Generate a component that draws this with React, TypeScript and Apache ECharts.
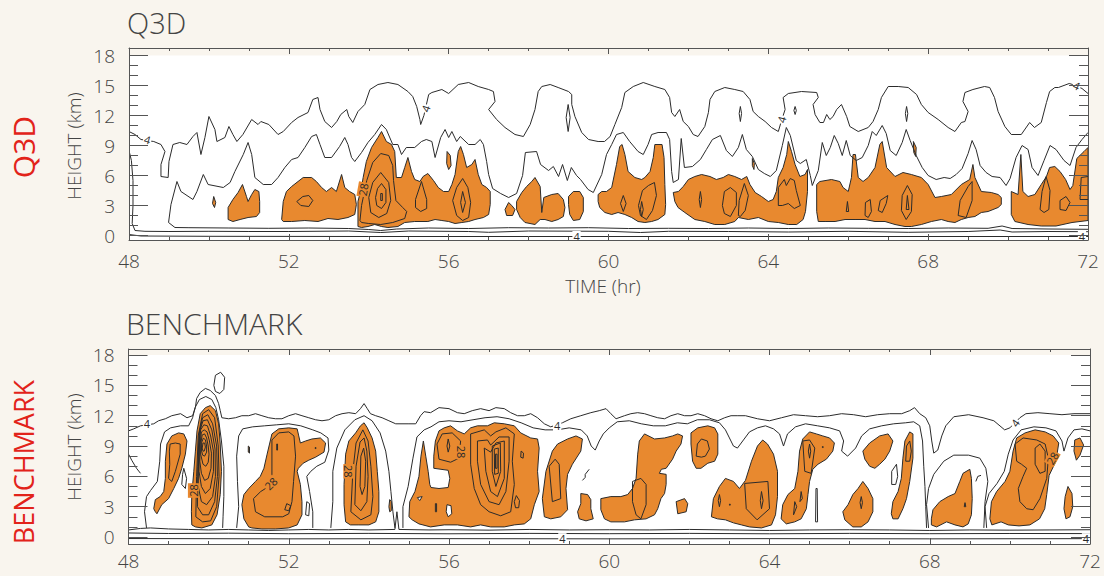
import React, { useEffect, useRef } from "react";
import * as echarts from "echarts";

type Pt = [number, number];
type Lbl = [number, number, string, number];

// ---------- axis ticks ----------
const timeTicks = [48, 52, 56, 60, 64, 68, 72];
const heightTicks = [0, 3, 6, 9, 12, 15, 18];
const heightMinorTicks = [0, 1, 2, 3, 4, 5, 6, 7, 8, 9, 10, 11, 12, 13, 14, 15, 16, 17, 18];

// ---------- Q3D panel ----------
const q3dFills: Pt[][] = [
  [[50.12,3.9],[50.17,3.3],[50.14,2.8],[50.09,3.2]],
  [[50.48,1.6],[50.48,2.8],[50.6,3.6],[50.73,4.3],[50.84,5.1],[50.94,3.9],[50.98,3.4],[51.07,4.1],[51.15,4.6],[51.25,4.4],[51.27,3.4],[51.27,2.3],[51.19,1.9],[50.98,1.8],[50.78,1.6],[50.6,1.4]],
  [[51.82,1.6],[51.86,3.4],[51.94,4.4],[52.07,4.9],[52.23,5.4],[52.36,5.8],[52.57,5.8],[52.69,5.4],[52.82,4.8],[52.94,4.4],[53.07,4.8],[53.19,4.4],[53.32,6.1],[53.4,4.8],[53.52,4.4],[53.65,4.1],[53.69,3.1],[53.65,2.1],[53.48,1.8],[53.23,1.6],[52.98,1.7],[52.73,1.4],[52.4,1.5],[52.07,1.4],[51.86,1.4]],
  [[53.73,0.9],[53.73,3.4],[53.82,4.8],[53.86,5.8],[53.94,7.4],[54.07,8.8],[54.23,9.8],[54.32,10.4],[54.44,9.4],[54.57,9.1],[54.65,8.4],[54.69,5.8],[54.82,5.8],[54.9,6.8],[54.98,7.8],[55.07,6.4],[55.15,5.6],[55.28,5.4],[55.36,5.9],[55.48,6.2],[55.62,5.5],[55.74,4.8],[55.87,4.4],[56.0,4.4],[56.08,5.1],[56.16,6.1],[56.24,8.4],[56.3,8.9],[56.37,8.1],[56.45,6.8],[56.58,7.1],[56.66,7.6],[56.74,6.1],[56.83,5.1],[56.95,4.8],[57.04,4.4],[57.04,3.1],[57.0,2.1],[56.87,1.8],[56.66,1.6],[56.5,1.4],[56.33,1.3],[56.16,1.2],[56.0,1.4],[55.83,1.5],[55.66,1.6],[55.48,1.4],[55.15,1.4],[54.9,1.3],[54.73,0.9],[54.48,0.8],[54.32,0.9],[54.15,1.1],[53.98,0.9],[53.82,0.8]],
  [[55.96,8.4],[56.04,8.0],[56.06,7.0],[56.0,6.6],[55.95,7.2]],
  [[57.41,2.6],[57.5,3.3],[57.58,3.0],[57.66,2.6],[57.6,2.0],[57.45,2.0]],
  [[57.7,3.4],[57.83,4.3],[57.95,4.9],[58.08,5.4],[58.16,5.8],[58.29,4.9],[58.33,2.3],[58.38,3.8],[58.58,4.1],[58.74,4.2],[58.87,3.6],[58.91,2.8],[58.87,1.9],[58.74,1.6],[58.58,1.4],[58.41,1.6],[58.29,1.6],[58.16,1.1],[57.91,1.3],[57.79,1.8],[57.7,2.6]],
  [[59.0,3.9],[59.12,4.4],[59.28,4.4],[59.37,3.8],[59.37,2.4],[59.28,1.6],[59.12,1.5],[59.03,2.1],[59.0,3.1]],
  [[59.74,4.1],[59.83,4.4],[59.95,4.4],[60.08,4.8],[60.2,7.1],[60.28,8.9],[60.34,9.1],[60.41,8.1],[60.49,6.4],[60.66,5.8],[60.83,5.6],[60.91,5.8],[61.04,6.4],[61.12,7.8],[61.16,9.1],[61.34,9.1],[61.39,7.8],[61.41,5.1],[61.43,3.1],[61.41,2.1],[61.24,1.6],[61.08,1.4],[60.91,1.3],[60.74,1.4],[60.58,1.8],[60.41,2.1],[60.24,2.3],[60.08,2.1],[59.91,2.3],[59.78,2.8],[59.74,3.4]],
  [[61.62,4.3],[61.75,4.4],[61.87,4.9],[62.0,5.6],[62.16,5.9],[62.33,6.1],[62.54,5.9],[62.7,5.6],[62.87,5.8],[63.0,6.1],[63.16,5.9],[63.33,5.6],[63.46,5.9],[63.54,5.1],[63.67,4.3],[63.83,3.9],[64.0,3.4],[64.12,3.6],[64.2,4.4],[64.25,5.8],[64.37,6.8],[64.46,8.1],[64.5,9.4],[64.58,8.4],[64.67,7.1],[64.79,5.9],[64.92,6.1],[64.98,6.6],[64.98,4.4],[64.93,2.4],[64.87,1.6],[64.71,1.1],[64.5,1.1],[64.25,1.3],[64.0,1.4],[63.75,1.8],[63.5,1.6],[63.25,1.8],[63.16,1.4],[62.91,1.1],[62.66,1.1],[62.41,1.4],[62.16,1.6],[61.91,2.3],[61.74,2.8],[61.66,3.4]],
  [[63.6,7.7],[63.65,7.2],[63.64,6.6],[63.6,7.0]],
  [[65.21,5.1],[65.29,5.4],[65.58,5.6],[65.79,5.4],[65.87,4.8],[66.0,4.4],[66.08,5.8],[66.12,8.1],[66.18,8.1],[66.25,5.8],[66.37,5.4],[66.5,5.8],[66.67,6.8],[66.79,9.1],[66.85,9.4],[66.96,6.8],[67.17,5.9],[67.37,6.3],[67.58,6.1],[67.83,5.8],[68.0,5.1],[68.17,3.8],[68.33,3.9],[68.58,4.1],[68.83,5.1],[69.04,5.6],[69.12,7.1],[69.17,5.8],[69.33,4.4],[69.58,4.3],[69.75,4.1],[69.83,3.8],[69.83,3.1],[69.75,2.8],[69.5,2.4],[69.33,2.3],[69.17,1.9],[69.0,1.8],[68.83,1.6],[68.67,1.3],[68.5,1.4],[68.33,1.6],[68.08,1.4],[67.83,1.1],[67.58,0.9],[67.42,0.9],[67.17,1.1],[66.92,1.4],[66.67,1.4],[66.42,1.6],[66.17,1.6],[65.92,1.6],[65.67,1.4],[65.42,1.4],[65.25,1.4],[65.21,2.4]],
  [[67.63,9.4],[67.7,8.8],[67.69,7.9],[67.64,8.3]],
  [[70.08,4.4],[70.25,4.1],[70.32,8.1],[70.37,4.4],[70.5,3.9],[70.67,4.1],[70.83,5.1],[70.96,5.9],[71.04,6.8],[71.17,6.9],[71.3,6.4],[71.44,5.6],[71.55,4.6],[71.62,5.0],[71.72,7.7],[71.9,8.4],[72.0,8.8],[72.0,1.5],[71.6,1.3],[71.2,0.95],[70.83,0.95],[70.5,1.1],[70.17,1.4],[70.08,2.1]],
];

const q3dLoops: Pt[][] = [
  [[52.2,3.4],[52.35,3.9],[52.5,4.0],[52.6,3.5],[52.5,2.9],[52.3,3.0]],
  [[53.78,1.5],[53.82,3.0],[53.95,5.5],[54.1,7.3],[54.3,8.2],[54.5,8.0],[54.6,7.0],[54.62,5.5],[54.68,3.5],[54.85,2.8],[54.95,2.4],[54.9,1.7],[54.6,1.3],[54.3,1.1],[54.0,1.2],[53.82,1.3]],
  [[54.0,3.8],[54.1,5.3],[54.3,6.3],[54.5,5.3],[54.55,3.5],[54.45,2.2],[54.25,1.8],[54.05,2.3]],
  [[54.17,3.8],[54.22,4.7],[54.32,5.2],[54.43,4.6],[54.43,3.3],[54.32,2.7],[54.2,3.0]],
  [[54.3,4.2],[54.34,4.2],[54.34,3.5],[54.3,3.5]],
  [[55.32,5.4],[55.45,3.6],[55.45,2.7],[55.3,2.4],[55.17,2.8],[55.17,3.6]],
  [[56.1,3.5],[56.2,4.8],[56.35,5.7],[56.48,4.8],[56.55,3.3],[56.5,1.8],[56.35,1.5],[56.2,2.0]],
  [[56.3,3.3],[56.35,4.4],[56.42,3.3],[56.35,2.3]],
  [[60.3,3.2],[60.37,4.0],[60.44,3.2],[60.37,2.4]],
  [[60.8,2.0],[60.75,3.0],[60.85,4.5],[61.0,5.0],[61.15,5.3],[61.2,4.0],[61.1,2.5],[60.95,1.6]],
  [[60.8,2.6],[60.83,3.4],[60.87,2.6],[60.83,1.9]],
  [[62.27,3.6],[62.3,4.4],[62.33,3.6],[62.3,2.8]],
  [[62.85,3.0],[62.9,4.4],[63.05,4.8],[63.2,4.3],[63.2,3.0],[63.05,1.9],[62.9,2.2]],
  [[63.25,2.0],[63.27,3.5],[63.4,5.2],[63.5,4.0],[63.42,2.5],[63.3,1.9]],
  [[64.25,3.0],[64.25,4.8],[64.4,5.6],[64.45,5.0],[64.55,5.7],[64.65,5.5],[64.7,4.5],[64.8,3.0],[64.65,2.7],[64.5,3.2],[64.35,3.0]],
  [[65.95,2.4],[65.98,3.4],[66.01,2.4]],
  [[66.42,2.0],[66.43,3.3],[66.55,3.6],[66.58,2.4],[66.5,1.8]],
  [[66.75,2.5],[66.8,3.5],[66.99,4.0],[66.95,3.2],[66.85,2.3]],
  [[67.33,2.5],[67.35,4.0],[67.48,5.0],[67.6,4.1],[67.58,2.4],[67.45,1.6]],
  [[67.45,2.6],[67.48,4.0],[67.52,2.6]],
  [[68.75,2.0],[68.8,3.5],[69.0,4.9],[69.1,5.4],[69.1,3.5],[68.95,1.8]],
  [[70.8,2.6],[70.85,4.4],[70.95,5.9],[71.05,4.5],[71.02,2.6],[70.9,2.3]],
  [[71.3,3.5],[71.45,3.9],[71.55,3.3],[71.45,2.5],[71.3,2.6]],
  [[58.94,11.8],[58.99,13.1],[59.04,11.8],[58.99,10.4]],
  [[63.27,12.2],[63.3,12.9],[63.33,12.2],[63.3,11.4]],
  [[64.64,12.5],[64.67,12.9],[64.7,12.5],[64.67,12.1]],
  [[67.43,12.2],[67.46,12.9],[67.49,12.2],[67.46,11.4]],
];

const q3dHoles: Pt[][] = [];

const q3dLines: Pt[][] = [
  // outer level-4 contour, top
  [[48.0,10.4],[48.15,10.1],[48.3,9.6],[48.62,9.4],[48.8,9.1],[48.9,8.4],[48.8,7.1],[48.8,5.9],[48.98,5.8],[49.0,7.4],[49.1,9.1],[49.27,9.3],[49.45,9.1],[49.6,9.9],[49.7,10.3],[49.8,8.1],[49.9,9.8],[50.0,11.9],[50.15,10.6],[50.2,9.4],[50.4,9.8],[50.5,10.9],[50.6,10.1],[50.7,9.4],[50.85,10.1],[51.07,11.6],[51.23,11.1],[51.3,11.4],[51.5,11.1],[51.73,10.1],[51.86,10.4],[52.07,11.3],[52.23,11.8],[52.48,12.3],[52.6,13.6],[52.73,13.8],[52.78,12.6],[52.9,11.4],[53.07,10.8],[53.2,11.4],[53.3,12.1],[53.45,12.6],[53.5,11.9],[53.6,11.3],[53.73,12.4],[53.9,13.1],[54.03,14.6],[54.23,15.1],[54.48,15.3],[54.73,15.1],[54.98,14.4],[55.1,13.9],[55.2,12.9],[55.28,11.6],[55.3,11.1],[55.38,12.0],[55.5,14.1],[55.58,14.3],[55.83,14.6],[56.0,14.2],[56.24,15.1],[56.5,15.3],[56.74,14.9],[57.0,14.6],[57.12,14.4],[57.16,13.4],[57.0,12.6],[57.2,11.6],[57.41,10.8],[57.66,10.1],[57.87,9.9],[58.04,11.1],[58.16,12.6],[58.24,14.4],[58.33,14.9],[58.54,15.1],[58.74,14.8],[59.0,14.4],[59.08,14.1],[59.08,13.1],[59.16,11.9],[59.33,10.3],[59.5,9.6],[59.74,9.4],[59.9,9.4],[60.04,9.9],[60.16,11.1],[60.33,12.8],[60.41,14.3],[60.62,14.9],[60.87,15.3],[61.16,14.9],[61.41,14.6],[61.53,13.8],[61.58,12.3],[61.66,11.9],[61.78,12.6],[61.87,11.4],[62.0,10.9],[62.12,10.1],[62.24,9.9],[62.41,10.9],[62.5,12.3],[62.54,13.6],[62.66,14.4],[62.91,14.8],[63.16,14.6],[63.37,14.4],[63.54,13.6],[63.62,12.4],[63.75,11.9],[63.92,11.4],[64.08,10.8],[64.25,10.4],[64.33,11.5],[64.42,12.6],[64.37,13.8],[64.5,14.2],[64.83,14.4],[65.21,14.3],[65.25,13.8],[65.12,13.1],[65.17,12.1],[65.29,11.3],[65.38,11.3],[65.46,12.1],[65.54,11.6],[65.62,11.9],[65.71,12.6],[65.83,13.1],[65.96,11.9],[66.04,10.9],[66.25,10.4],[66.5,10.8],[66.62,11.4],[66.75,12.6],[66.83,13.8],[67.0,14.9],[67.25,14.9],[67.5,14.8],[67.71,14.1],[67.83,13.1],[68.0,12.3],[68.25,11.6],[68.5,10.8],[68.67,10.4],[68.83,11.3],[68.92,11.4],[69.0,12.4],[68.87,13.4],[68.92,14.3],[69.12,14.6],[69.41,14.9],[69.54,14.8],[69.66,13.8],[69.75,12.4],[69.92,10.9],[70.08,10.1],[70.33,10.1],[70.54,11.3],[70.66,10.8],[70.83,11.3],[70.96,13.3],[71.04,14.4],[71.17,14.8],[71.26,14.8],[71.53,15.2],[71.7,15.0],[71.85,14.7],[72.0,14.2]],
  // outer level-4 contour, left side and bottom
  [[48.0,8.5],[48.06,7.5],[48.1,5.5],[48.1,3.0],[48.08,1.2],[48.15,0.5],[48.4,0.42],[49.0,0.4],[50.0,0.42],[51.0,0.4],[52.0,0.4],[53.5,0.45],[54.3,0.3],[55.0,0.45],[56.5,0.4],[57.0,0.32],[58.0,0.45],[60.0,0.42],[60.8,0.3],[61.5,0.42],[63.0,0.4],[64.5,0.35],[66.0,0.42],[67.5,0.32],[69.0,0.4],[69.8,0.55],[70.1,0.35],[71.0,0.4],[72.0,0.38]],
  // near-surface level-4 contour
  [[48.0,0.1],[48.3,-0.05],[50.0,-0.08],[54.0,-0.1],[58.0,-0.1],[62.0,-0.1],[66.0,-0.1],[70.0,-0.1],[72.0,-0.1]],
  // second contour, top
  [[48.99,1.3],[49.05,3.1],[49.2,5.4],[49.3,4.4],[49.6,3.6],[49.7,4.4],[49.86,6.1],[49.98,5.1],[50.36,4.8],[50.53,5.3],[50.65,6.4],[50.86,8.1],[50.98,9.3],[51.07,8.1],[51.15,5.8],[51.36,5.1],[51.57,5.1],[51.73,5.8],[51.9,6.8],[52.07,7.6],[52.23,7.8],[52.4,8.8],[52.57,9.9],[52.69,10.1],[52.78,9.1],[52.9,7.8],[53.07,7.8],[53.27,8.9],[53.4,9.8],[53.48,9.1],[53.57,7.8],[53.65,7.4],[53.82,8.3],[53.98,9.3],[54.15,10.1],[54.32,11.1],[54.44,10.6],[54.6,9.1],[54.73,9.1],[54.82,8.1],[54.94,8.8],[55.15,8.8],[55.32,9.4],[55.44,9.6],[55.58,9.4],[55.66,7.8],[55.8,9.8],[55.91,10.6],[56.0,9.8],[56.08,10.4],[56.2,9.4],[56.29,9.9],[56.5,9.1],[56.66,9.1],[56.79,9.6],[56.87,9.1],[56.95,7.4],[57.0,6.1],[57.1,4.7],[57.3,4.2],[57.5,3.8],[57.7,4.2],[57.85,6.0],[57.92,8.3],[58.2,8.4],[58.3,7.1],[58.5,6.5],[58.62,6.9],[58.75,5.9],[58.85,7.1],[58.97,5.5],[59.07,6.8],[59.2,6.0],[59.3,5.6],[59.49,4.6],[59.62,4.3],[59.83,6.1],[59.95,8.1],[60.08,9.1],[60.2,10.1],[60.37,10.3],[60.53,9.4],[60.74,8.4],[60.87,8.1],[60.99,9.1],[61.08,10.1],[61.24,10.3],[61.45,10.3],[61.53,9.6],[61.58,6.4],[61.62,5.3],[61.75,5.6],[61.82,9.7],[61.9,6.8],[62.1,6.9],[62.3,7.6],[62.45,8.6],[62.6,9.6],[62.8,10.0],[62.95,8.5],[63.1,7.9],[63.25,8.8],[63.35,10.1],[63.45,8.6],[63.6,7.9],[63.75,6.6],[63.9,6.2],[64.05,5.9],[64.2,6.5],[64.35,9.0],[64.45,10.8],[64.55,10.0],[64.7,7.5],[64.8,7.2],[64.95,7.6],[65.05,6.0],[65.1,5.0],[65.25,6.5],[65.35,9.3],[65.45,8.0],[65.55,8.8],[65.65,10.0],[65.75,9.2],[65.85,8.0],[65.95,9.5],[66.05,8.0],[66.2,7.5],[66.35,7.8],[66.5,9.0],[66.6,10.4],[66.7,10.0],[66.85,11.0],[66.95,10.2],[67.05,8.5],[67.2,8.0],[67.35,9.3],[67.45,10.6],[67.55,9.5],[67.7,8.0],[67.85,6.8],[68.0,6.0],[68.2,5.6],[68.4,5.8],[68.55,5.7],[68.7,6.1],[68.85,6.7],[69.0,8.2],[69.1,9.5],[69.2,8.6],[69.3,7.0],[69.45,6.3],[69.6,5.9],[69.8,5.8],[69.95,5.0],[70.05,5.7],[70.2,7.8],[70.35,9.0],[70.5,8.6],[70.6,6.8],[70.75,6.0],[70.9,7.5],[71.05,9.0],[71.2,8.6],[71.4,7.5],[71.55,7.0],[71.7,8.8],[71.85,9.6],[72.0,10.3]],
  // second contour, bottom
  [[48.99,1.3],[49.15,0.8],[49.5,0.78],[50.5,0.75],[51.5,0.72],[52.5,0.75],[53.5,0.7],[54.0,0.6],[54.3,0.5],[54.7,0.65],[55.5,0.75],[56.5,0.7],[57.5,0.78],[58.5,0.75],[59.5,0.78],[60.5,0.7],[61.5,0.72],[62.5,0.7],[63.5,0.75],[64.5,0.7],[65.5,0.75],[66.5,0.72],[67.5,0.7],[68.5,0.75],[69.5,0.72],[69.85,0.95],[70.1,0.7],[71.0,0.65],[72.0,0.62]],
  [[72.0,5.9],[71.83,5.8],[71.8,3.6],[72.0,3.6]],
];

const q3dLabelsOnWhite: Lbl[] = [
  [48.46,9.6,"4",-15],[55.42,12.7,"4",70],[64.33,11.6,"4",75],[71.72,15.0,"4",-25],[59.2,-0.1,"4",0],[71.85,-0.1,"4",0],
];
const q3dLabelsOnOrange: Lbl[] = [[53.86,4.6,"28",80]];

// ---------- BENCHMARK panel ----------
const benchFills: Pt[][] = [
  [[48.67,2.5],[48.63,2.8],[48.67,3.7],[48.79,4.0],[48.88,4.5],[48.92,5.8],[48.92,7.5],[48.96,9.2],[49.08,10.0],[49.25,10.3],[49.38,10.2],[49.46,9.5],[49.42,8.2],[49.33,6.8],[49.25,5.8],[49.13,4.8],[49.0,3.8],[48.83,3.2],[48.71,2.3]],
  [[49.58,1.2],[49.57,2.5],[49.58,4.2],[49.63,6.5],[49.67,8.5],[49.71,10.5],[49.79,12.2],[49.92,12.8],[50.04,13.0],[50.17,12.5],[50.25,11.2],[50.29,9.2],[50.32,6.5],[50.29,4.2],[50.21,2.2],[50.08,1.2],[49.83,0.9],[49.67,1.0]],
  [[50.99,9.0],[51.02,8.9],[51.02,8.3],[50.99,8.4]],
  [[51.0,1.0],[50.88,1.8],[50.83,3.2],[50.88,4.2],[51.0,4.8],[51.17,5.5],[51.29,6.0],[51.38,6.8],[51.46,8.2],[51.52,9.2],[51.58,10.2],[51.75,10.7],[52.0,10.8],[52.21,10.7],[52.25,10.0],[52.29,9.3],[52.42,9.5],[52.58,9.7],[52.79,9.8],[52.92,9.3],[52.88,8.4],[52.67,7.9],[52.5,7.6],[52.36,7.3],[52.24,6.8],[52.21,6.5],[52.29,5.2],[52.33,3.5],[52.33,2.2],[52.21,1.2],[52.0,0.9],[51.67,0.8],[51.33,0.8],[51.08,0.9]],
  [[53.42,1.5],[53.38,3.2],[53.38,5.2],[53.42,8.2],[53.5,9.5],[53.67,10.3],[53.79,11.0],[53.88,11.3],[53.96,10.8],[54.08,9.8],[54.17,8.5],[54.21,6.5],[54.25,4.5],[54.25,2.5],[54.17,1.5],[54.0,1.2],[53.75,1.2],[53.54,1.2]],
  [[54.52,3.7],[54.56,3.5],[54.56,2.6],[54.52,2.5],[54.5,3.0]],
  [[55.0,2.0],[55.02,3.5],[55.15,4.5],[55.25,6.0],[55.3,8.0],[55.36,9.5],[55.42,8.0],[55.48,6.5],[55.52,5.2],[55.55,4.9],[55.75,4.8],[55.98,4.9],[56.02,5.8],[55.98,6.6],[55.8,6.7],[55.62,6.8],[55.62,8.0],[55.66,9.5],[55.75,10.5],[55.88,10.8],[56.04,11.0],[56.21,10.5],[56.38,10.2],[56.54,10.8],[56.71,11.0],[56.96,11.0],[57.13,11.3],[57.38,11.2],[57.63,11.0],[57.79,10.3],[58.04,9.8],[58.21,9.7],[58.25,8.8],[58.21,6.5],[58.25,4.5],[58.13,3.2],[58.04,1.8],[57.88,1.3],[57.63,1.2],[57.38,1.0],[57.04,1.0],[56.79,1.2],[56.54,1.0],[56.21,1.2],[55.88,1.2],[55.54,1.0],[55.25,1.3],[55.08,1.7]],
  [[58.38,2.0],[58.33,3.8],[58.42,6.5],[58.58,8.5],[58.71,9.2],[58.96,9.7],[59.17,10.0],[59.33,9.7],[59.29,8.5],[59.08,7.2],[58.96,6.2],[58.92,4.8],[58.96,2.7],[58.79,2.0],[58.54,1.8]],
  [[59.29,4.3],[59.46,4.2],[59.54,3.7],[59.54,2.8],[59.6,1.8],[59.42,1.6],[59.25,1.8],[59.21,2.5],[59.29,3.3]],
  [[59.79,3.8],[60.04,4.0],[60.29,4.0],[60.46,4.2],[60.58,4.8],[60.67,5.8],[60.71,8.2],[60.75,9.5],[60.88,10.2],[61.13,9.7],[61.38,9.8],[61.58,10.0],[61.71,10.2],[61.83,10.0],[61.79,9.2],[61.67,8.5],[61.58,7.7],[61.42,6.8],[61.3,6.7],[61.25,6.3],[61.42,6.2],[61.42,5.2],[61.38,4.3],[61.29,3.8],[61.21,2.8],[61.13,2.2],[60.92,1.8],[60.63,1.7],[60.38,1.5],[60.04,1.5],[59.88,1.8],[59.79,2.7]],
  [[61.67,3.5],[61.88,3.8],[61.96,3.3],[61.92,2.5],[61.71,2.3]],
  [[62.04,10.3],[62.21,10.8],[62.46,11.0],[62.63,10.8],[62.71,10.2],[62.71,8.2],[62.63,7.5],[62.46,7.3],[62.29,6.8],[62.17,6.8],[62.08,7.5],[62.04,9.2]],
  [[62.55,2.0],[62.6,3.8],[62.75,5.0],[62.9,5.8],[63.1,5.5],[63.25,4.8],[63.4,5.6],[63.55,7.5],[63.7,9.0],[63.83,9.6],[63.95,9.2],[64.1,8.2],[64.2,6.5],[64.2,4.0],[64.15,2.2],[64.05,1.2],[63.8,0.9],[63.5,1.0],[63.3,1.2],[63.1,1.4],[62.9,1.7],[62.7,1.8]],
  [[64.29,1.8],[64.33,3.2],[64.46,4.2],[64.63,4.8],[64.71,6.5],[64.75,8.5],[64.83,9.7],[65.0,10.4],[65.17,10.2],[65.33,10.0],[65.5,9.8],[65.62,9.3],[65.58,8.5],[65.42,7.7],[65.21,7.2],[65.08,6.7],[65.0,5.5],[64.96,4.2],[64.92,2.8],[64.79,1.8],[64.63,1.5],[64.42,1.3]],
  [[65.83,2.5],[65.96,3.2],[66.08,4.2],[66.21,4.8],[66.33,5.5],[66.46,4.8],[66.58,3.8],[66.58,2.5],[66.46,1.5],[66.29,1.0],[66.08,1.0],[65.88,1.7]],
  [[66.33,8.5],[66.5,9.3],[66.75,10.0],[66.96,10.2],[67.08,9.5],[67.0,8.5],[66.88,7.7],[66.75,7.2],[66.63,6.8],[66.5,7.0],[66.38,7.7]],
  [[67.04,2.3],[67.08,3.5],[67.21,4.5],[67.29,5.8],[67.33,7.8],[67.38,9.5],[67.5,10.4],[67.58,10.2],[67.58,7.8],[67.5,5.5],[67.42,3.8],[67.33,2.8],[67.21,1.8],[67.08,1.8]],
  [[68.04,1.8],[68.08,2.7],[68.25,3.5],[68.46,4.0],[68.63,4.3],[68.75,5.5],[68.83,6.3],[69.0,6.7],[69.04,5.8],[69.06,3.8],[69.04,2.2],[68.96,1.3],[68.83,1.0],[68.63,1.2],[68.42,1.5],[68.17,1.0],[68.04,1.2]],
  [[69.5,1.8],[69.54,3.5],[69.67,4.5],[69.88,5.5],[70.0,6.5],[70.08,8.5],[70.17,9.8],[70.38,10.3],[70.63,10.6],[70.88,10.4],[71.08,10.0],[71.22,9.3],[71.15,7.5],[70.98,6.1],[70.92,4.2],[70.87,2.8],[70.74,1.8],[70.5,1.2],[70.23,1.1],[69.96,1.2],[69.78,1.5],[69.55,1.2]],
  [[71.62,9.6],[71.75,9.8],[71.84,9.1],[71.75,8.1],[71.66,7.6],[71.6,8.5]],
  [[71.45,5.0],[71.55,4.3],[71.57,3.0],[71.5,2.0],[71.4,1.8],[71.35,2.8],[71.38,4.0]],
];

const benchHoles: Pt[][] = [
  [[55.95,3.2],[56.05,3.1],[56.07,2.3],[55.98,2.0],[55.93,2.5]],
  [[55.21,3.9],[55.33,4.0],[55.27,3.6]],
];

const benchLoops: Pt[][] = [
  [[49.04,9.2],[49.17,9.3],[49.29,9.2],[49.29,8.2],[49.17,6.5],[49.08,5.5],[49.0,5.8],[49.03,7.2],[49.02,8.5]],
  [[49.68,2.0],[49.7,6.0],[49.74,10.0],[49.85,12.2],[50.0,12.6],[50.15,11.8],[50.24,9.0],[50.26,6.0],[50.2,3.0],[50.05,1.6],[49.85,1.5]],
  [[49.72,3.0],[49.73,7.0],[49.76,10.2],[49.85,11.8],[49.98,12.1],[50.1,11.2],[50.2,9.0],[50.22,6.0],[50.15,3.5],[50.0,2.2],[49.85,2.2]],
  [[49.74,5.0],[49.75,8.0],[49.78,10.5],[49.86,11.5],[49.97,11.6],[50.08,10.6],[50.16,8.7],[50.17,6.0],[50.1,4.0],[49.95,3.2],[49.82,3.5]],
  [[49.76,6.5],[49.77,9.0],[49.8,10.6],[49.88,11.1],[49.97,11.0],[50.05,10.0],[50.12,8.5],[50.12,6.5],[50.04,4.8],[49.92,4.3],[49.82,5.0]],
  [[49.78,7.5],[49.79,9.3],[49.82,10.4],[49.89,10.6],[49.96,10.4],[50.02,9.5],[50.07,8.3],[50.06,6.8],[49.99,5.8],[49.9,5.6],[49.82,6.3]],
  [[49.8,8.2],[49.81,9.4],[49.84,10.1],[49.9,10.2],[49.95,9.8],[49.99,9.0],[50.01,8.2],[49.99,7.4],[49.93,7.0],[49.86,7.2]],
  [[49.82,8.6],[49.83,9.4],[49.87,9.8],[49.92,9.6],[49.95,9.0],[49.95,8.4],[49.9,8.0],[49.85,8.1]],
  [[49.84,8.8],[49.86,9.3],[49.9,9.3],[49.92,8.9],[49.89,8.5],[49.86,8.5]],
  [[49.38,6.8],[49.45,5.8],[49.42,4.8],[49.33,5.2],[49.35,6.2]],
  [[50.13,15.0],[50.17,16.0],[50.3,16.3],[50.4,15.8],[50.38,14.6],[50.28,14.2],[50.17,14.4]],
  [[51.58,9.6],[51.58,5.2],[51.3,4.5],[51.12,3.8],[51.17,2.5],[51.4,2.0],[51.85,2.0],[52.0,2.3],[52.08,3.5],[52.12,5.5],[52.17,8.0],[52.13,10.0],[52.0,10.4],[51.75,10.3]],
  [[51.9,2.7],[51.95,3.3],[52.05,3.1],[52.0,2.6]],
  [[51.7,9.2],[51.72,9.2],[51.72,8.6],[51.7,8.6]],
  [[52.66,8.85],[52.68,8.85],[52.68,8.75],[52.66,8.75]],
  [[52.42,2.2],[52.45,3.5],[52.52,3.3],[52.5,2.1]],
  [[53.55,2.5],[53.6,6.5],[53.68,9.3],[53.85,10.6],[53.98,9.5],[54.05,7.0],[54.1,4.0],[54.05,2.2],[53.8,1.7]],
  [[53.65,3.2],[53.68,7.0],[53.78,9.4],[53.88,9.8],[53.95,8.5],[53.98,6.0],[53.95,3.5],[53.8,2.6]],
  [[53.78,5.0],[53.8,8.0],[53.87,8.8],[53.92,7.5],[53.9,5.0],[53.83,4.2]],
  [[55.7,9.2],[55.75,7.7],[56.04,7.4],[56.25,7.8],[56.29,9.5],[56.08,10.3],[55.83,10.2]],
  [[55.95,9.0],[55.98,9.7],[56.02,9.0],[55.98,8.4]],
  [[55.66,3.3],[55.69,3.3],[55.69,2.5],[55.66,2.5]],
  [[56.54,10.2],[56.88,10.6],[57.04,10.0],[57.17,10.4],[57.42,10.8],[57.63,10.2],[57.58,7.5],[57.63,5.2],[57.54,2.5],[57.29,2.1],[57.0,2.5],[56.79,3.2],[56.63,4.8],[56.54,7.2]],
  [[56.71,9.5],[56.96,9.6],[57.04,9.1],[57.25,9.9],[57.5,9.9],[57.5,7.5],[57.42,4.5],[57.25,3.2],[57.0,3.5],[56.79,5.2],[56.71,7.5]],
  [[56.88,8.8],[57.04,8.4],[57.17,9.3],[57.38,9.5],[57.38,5.8],[57.21,4.0],[57.04,4.5],[56.92,6.5]],
  [[57.08,9.0],[57.28,9.3],[57.29,6.5],[57.17,5.0],[57.08,6.5]],
  [[57.13,8.7],[57.23,8.8],[57.23,6.3],[57.14,6.2]],
  [[57.16,8.2],[57.2,8.2],[57.2,6.8],[57.16,6.8]],
  [[57.68,4.1],[57.76,3.6],[57.74,2.9],[57.66,2.9],[57.63,3.5]],
  [[57.8,8.5],[57.86,8.3],[57.85,7.8],[57.79,7.9]],
  [[58.5,7.0],[58.58,3.5],[58.79,3.8],[58.75,7.2],[58.65,7.7]],
  [[60.58,5.5],[60.79,5.8],[60.92,5.2],[60.92,3.2],[60.79,1.8],[60.67,2.2],[60.58,3.5]],
  [[62.17,8.0],[62.2,9.2],[62.3,9.7],[62.45,9.5],[62.5,8.7],[62.4,8.0],[62.3,7.9]],
  [[62.72,3.6],[62.75,4.2],[62.78,3.6],[62.75,3.0]],
  [[63.0,3.25],[63.02,3.25],[63.02,3.15],[63.0,3.15]],
  [[63.38,5.3],[63.96,5.5],[64.0,2.8],[63.69,1.7],[63.42,2.8]],
  [[63.77,3.6],[63.8,4.5],[63.84,3.6],[63.8,2.8]],
  [[64.83,9.5],[64.88,6.5],[65.04,6.3],[65.13,8.8],[65.0,9.6]],
  [[64.97,8.5],[65.0,9.2],[65.03,8.5],[65.0,7.8]],
  [[65.32,8.95],[65.34,8.95],[65.34,8.85],[65.32,8.85]],
  [[64.6,2.2],[64.63,3.5],[64.68,3.0]],
  [[64.76,3.5],[64.79,4.5],[64.82,3.8]],
  [[65.15,1.5],[65.16,4.8],[65.19,4.8],[65.2,1.5]],
  [[66.26,3.4],[66.29,4.0],[66.32,3.4],[66.29,2.8]],
  [[67.05,5.2],[67.05,6.5],[67.17,7.2],[67.2,6.0],[67.15,5.2]],
  [[67.4,7.5],[67.42,9.0],[67.5,9.5],[67.54,8.5],[67.5,7.5]],
  [[68.86,3.0],[68.88,3.4],[68.9,3.0]],
  [[70.17,7.5],[70.13,9.2],[70.33,9.8],[70.67,9.6],[70.88,9.2],[70.96,7.8],[70.92,5.8],[70.75,3.8],[70.58,2.7],[70.42,2.8],[70.25,3.5],[70.21,4.8],[70.33,6.0],[70.42,6.8],[70.29,7.2]],
  [[70.63,8.8],[70.75,9.2],[70.88,8.5],[70.88,6.5],[70.75,6.3],[70.63,7.2]],
];

const benchLines: Pt[][] = [
  // outer level-4 contour, top
  [[48.0,10.5],[48.13,10.7],[48.3,11.0],[48.63,11.2],[48.75,11.5],[48.92,11.7],[49.08,12.0],[49.3,12.2],[49.46,11.8],[49.6,12.0],[49.67,12.8],[49.7,13.7],[49.79,14.3],[49.92,14.7],[50.04,14.5],[50.17,14.0],[50.25,13.2],[50.29,12.5],[50.33,11.8],[50.5,11.7],[50.67,11.8],[50.83,12.0],[51.0,12.0],[51.17,12.2],[51.33,12.0],[51.5,11.8],[51.67,11.7],[51.83,11.7],[52.0,12.0],[52.17,12.2],[52.33,12.0],[52.5,11.8],[52.67,11.6],[52.83,11.5],[53.0,11.6],[53.17,12.0],[53.33,12.2],[53.5,12.3],[53.67,12.2],[53.79,12.7],[53.88,13.2],[53.96,12.7],[54.04,12.2],[54.17,12.0],[54.33,11.8],[54.5,11.5],[54.67,11.2],[55.0,11.2],[55.17,11.2],[55.29,12.0],[55.38,12.4],[55.54,12.3],[55.75,12.8],[56.0,12.7],[56.21,12.3],[56.38,12.2],[56.58,12.5],[56.79,12.7],[57.0,12.5],[57.17,12.8],[57.38,12.7],[57.54,12.3],[57.71,12.0],[57.88,12.0],[58.04,12.2],[58.21,11.8],[58.38,11.2],[58.54,10.9],[58.83,11.3],[59.04,11.7],[59.29,12.0],[59.54,12.3],[59.75,12.5],[59.92,12.7],[60.04,12.2],[60.17,11.7],[60.38,12.0],[60.54,12.2],[60.71,12.3],[60.88,12.2],[61.04,12.0],[61.21,11.8],[61.38,11.7],[61.54,12.0],[61.71,12.2],[61.88,12.0],[62.04,12.0],[62.21,12.2],[62.38,12.0],[62.54,11.7],[62.71,11.5],[62.88,11.8],[63.04,12.0],[63.21,12.0],[63.4,12.0],[63.7,11.7],[64.0,11.5],[64.3,11.8],[64.6,12.1],[64.9,12.0],[65.2,11.9],[65.5,12.0],[65.8,12.2],[66.1,12.1],[66.4,11.9],[66.7,12.1],[67.0,12.2],[67.3,12.2],[67.5,12.5],[67.62,12.8],[67.75,12.2],[67.9,11.8],[68.0,11.0],[68.05,9.5],[68.1,8.3],[68.2,8.6],[68.3,10.0],[68.4,11.0],[68.6,11.9],[68.97,12.1],[69.33,11.8],[69.6,11.5],[69.87,10.6],[70.0,10.8],[70.25,11.8],[70.4,12.2],[70.7,12.3],[71.0,12.2],[71.3,12.1],[71.6,12.2],[72.0,12.2]],
  [[48.0,8.2],[48.08,7.6],[48.2,6.8],[48.3,6.3]],
  // second contour envelopes
  [[48.45,0.9],[48.4,2.5],[48.45,4.0],[48.55,4.6],[48.72,5.5],[48.78,7.5],[48.8,9.2],[48.9,10.4],[49.05,10.8],[49.3,11.0],[49.5,11.0],[49.6,11.8],[49.66,12.8],[49.77,13.6],[49.93,13.9],[50.08,13.6],[50.18,12.8],[50.25,11.6],[50.32,9.5],[50.38,7.0],[50.38,4.0],[50.36,2.0],[50.35,0.9]],
  [[50.7,0.9],[50.75,3.0],[50.72,5.5],[50.7,8.0],[50.75,10.0],[50.85,10.7],[51.1,10.9],[51.4,11.0],[51.7,11.1],[52.0,11.2],[52.3,11.0],[52.6,10.6],[52.8,10.3],[52.98,9.8],[53.0,8.6],[52.9,7.4],[52.7,7.0],[52.55,6.5],[52.45,6.0],[52.52,4.5],[52.6,2.5],[52.6,0.9]],
  [[53.05,0.9],[53.1,3.5],[53.1,6.5],[53.2,8.8],[53.4,10.6],[53.65,11.6],[53.88,12.0],[54.08,11.5],[54.28,10.3],[54.42,8.5],[54.5,6.5],[54.55,4.5],[54.6,2.5],[54.65,0.9]],
  [[54.85,0.9],[54.85,3.0],[54.98,5.0],[55.1,7.8],[55.2,9.9],[55.38,10.6],[55.55,10.9],[55.75,11.4],[56.0,11.5],[56.3,11.4],[56.6,11.6],[56.9,11.8],[57.2,11.9],[57.5,11.7],[57.8,11.3],[58.1,10.8],[58.4,10.6],[58.7,10.6],[59.0,10.8],[59.3,10.6],[59.45,10.0],[59.55,9.0],[59.65,8.6],[59.75,9.5],[59.85,10.2],[60.0,10.8],[60.2,11.4],[60.5,11.5],[60.8,11.2],[61.1,11.0],[61.4,11.0],[61.7,11.3],[61.95,11.2],[62.2,11.6],[62.5,11.6],[62.75,11.3],[62.9,10.6],[63.0,9.8],[63.1,9.0],[63.2,8.8],[63.35,9.6],[63.5,10.4],[63.7,10.8],[63.9,11.0],[64.1,10.7],[64.25,10.2],[64.35,9.0],[64.45,10.2],[64.65,10.9],[64.9,11.2],[65.2,11.0],[65.5,10.8],[65.75,10.5],[65.85,9.5],[65.8,8.5],[65.95,8.0],[66.15,8.8],[66.3,10.0],[66.5,10.7],[66.8,11.0],[67.1,11.2],[67.4,11.3],[67.6,11.4],[67.75,11.0],[67.82,9.5],[67.85,7.0],[67.88,5.0],[67.9,3.0],[67.92,0.9]],
  [[67.97,0.9],[67.92,3.2],[67.97,4.8],[68.1,6.2],[68.35,7.5],[68.6,8.1],[68.97,8.1],[69.25,7.8],[69.4,6.8],[69.45,5.5],[69.38,3.5],[69.35,0.9]],
  [[69.42,0.9],[69.38,3.0],[69.48,4.3],[69.68,5.3],[69.86,6.5],[69.96,8.2],[70.08,9.6],[70.28,10.6],[70.6,10.9],[70.9,10.8],[71.15,10.5],[71.3,9.5],[71.35,8.5],[71.45,9.8],[71.6,10.6],[71.8,10.7],[72.0,10.5]],
  [[59.33,5.6],[59.4,5.9],[59.4,6.2],[59.5,6.7]],
  [[69.15,5.5],[69.2,6.0],[69.28,6.1]],
  // second contour bottom
  [[48.0,0.7],[48.3,0.85],[48.55,0.9],[49.0,0.8],[49.5,0.75],[50.0,0.7],[50.5,0.75],[51.0,0.7],[51.5,0.65],[52.0,0.7],[52.5,0.75],[53.0,0.7],[53.5,0.75],[54.0,0.7],[54.65,0.75],[54.7,2.5],[54.75,0.75],[55.5,0.7],[56.0,0.72],[57.0,0.68],[58.0,0.75],[59.0,0.7],[60.0,0.72],[61.0,0.7],[62.0,0.75],[63.0,0.7],[64.0,0.65],[65.0,0.7],[66.0,0.72],[67.0,0.7],[68.0,0.65],[69.0,0.7],[70.0,0.68],[71.0,0.7],[72.0,0.72]],
  // lower level-4 contours
  [[48.0,0.4],[49.0,0.35],[50.5,0.38],[52.0,0.33],[54.0,0.36],[56.0,0.32],[58.0,0.36],[60.0,0.33],[62.0,0.36],[64.0,0.32],[66.0,0.36],[68.0,0.33],[70.0,0.35],[72.0,0.34]],
  [[48.0,-0.15],[52.0,-0.18],[56.0,-0.16],[60.0,-0.18],[64.0,-0.16],[68.0,-0.18],[72.0,-0.16]],
];

const benchLabelsOnWhite: Lbl[] = [
  [48.46,11.2,"4",0],[58.7,11.0,"4",0],[70.13,11.3,"4",55],[58.83,-0.16,"4",0],[71.9,-0.16,"4",0],
];
const benchLabelsOnOrange: Lbl[] = [
  [49.62,4.6,"28",90],[51.55,5.3,"28",45],[53.5,6.5,"28",-90],[56.32,8.4,"28",-90],[71.06,7.8,"28",60],
];

// ---------- styling ----------
const BG = "#f9f5ee";
const ORANGE = "#e8892f";
const INK = "#2b2b2b";
const AXIS = "#555555";
const TEXT = "#444444";
const FONT = "'Open Sans', 'Liberation Sans', sans-serif";

const panels = [
  { top: 48, height: 192, left: 129, width: 959, ymin: -0.45, ymax: 18.75, labelMargin: 11,
    fills: q3dFills, holes: q3dHoles, loops: q3dLoops, lines: q3dLines,
    lw: q3dLabelsOnWhite, lo: q3dLabelsOnOrange },
  { top: 349, height: 195, left: 128.5, width: 961.5, ymin: -0.69, ymax: 18.6, labelMargin: 7,
    fills: benchFills, holes: benchHoles, loops: benchLoops, lines: benchLines,
    lw: benchLabelsOnWhite, lo: benchLabelsOnOrange },
];

function shapeSeries(p: number, shapes: Pt[][], closed: boolean, style: any, z: number) {
  return {
    type: "custom",
    xAxisIndex: p * 2,
    yAxisIndex: p * 4,
    coordinateSystem: "cartesian2d",
    clip: true,
    silent: true,
    z,
    data: shapes.map((s, i) => [s[0][0], s[0][1], i]),
    encode: { x: 0, y: 1 },
    renderItem: (params: any, api: any) => {
      const s = shapes[params.dataIndex];
      const pts = s.map((q) => api.coord(q));
      return closed
        ? { type: "polygon", shape: { points: pts }, style }
        : { type: "polyline", shape: { points: pts }, style };
    },
  };
}

function labelSeries(p: number, labels: Lbl[], bg: string) {
  return {
    type: "custom",
    xAxisIndex: p * 2,
    yAxisIndex: p * 4,
    coordinateSystem: "cartesian2d",
    clip: true,
    silent: true,
    z: 6,
    data: labels.map((l, i) => [l[0], l[1], i]),
    encode: { x: 0, y: 1 },
    renderItem: (params: any, api: any) => {
      const l = labels[params.dataIndex];
      const c = api.coord([l[0], l[1]]);
      return {
        type: "text",
        x: c[0],
        y: c[1],
        rotation: (l[3] * Math.PI) / 180,
        style: {
          text: l[2],
          fill: INK,
          fontSize: 11,
          fontFamily: FONT,
          align: "center",
          verticalAlign: "middle",
          backgroundColor: bg,
          padding: [0, 1],
        },
      };
    },
  };
}

function bgSeries(p: number, ymin: number) {
  return {
    type: "custom",
    xAxisIndex: p * 2,
    yAxisIndex: p * 4,
    coordinateSystem: "cartesian2d",
    silent: true,
    z: 1,
    data: [[48, 18]],
    encode: { x: 0, y: 1 },
    renderItem: (params: any, api: any) => {
      const a = api.coord([48, 18]);
      const b = api.coord([72, ymin]);
      return { type: "rect", shape: { x: a[0], y: a[1], width: b[0] - a[0], height: b[1] - a[1] }, style: { fill: "#ffffff" } };
    },
  };
}

export default function App() {
  const ref = useRef<HTMLDivElement>(null);
  useEffect(() => {
    document.body.style.margin = "0";
    document.body.style.background = BG;
    const chart = echarts.init(ref.current!, undefined, { renderer: "svg" });

    const grids: any[] = [];
    const xAxes: any[] = [];
    const yAxes: any[] = [];
    const series: any[] = [];

    panels.forEach((P, p) => {
      grids.push({ left: P.left, top: P.top, width: P.width, height: P.height, show: false });
      [false, true].forEach((isTop) => {
        xAxes.push({
          type: "value", gridIndex: p, position: isTop ? "top" : "bottom",
          min: 48, max: 72, interval: 4, z: 10,
          axisLine: { show: true, onZero: false, lineStyle: { color: AXIS, width: 1 } },
          axisTick: { show: true, inside: true, length: 6, lineStyle: { color: AXIS } },
          minorTick: { show: true, splitNumber: 4, length: 3, lineStyle: { color: AXIS } },
          splitLine: { show: false }, minorSplitLine: { show: false },
          axisLabel: { show: !isTop, fontSize: 19, color: TEXT, margin: P.labelMargin, fontFamily: FONT, fontWeight: 300,
            customValues: timeTicks },
        });
      });
      [["left", true], ["left", false], ["right", true], ["right", false]].forEach(([pos, major]: any, k) => {
        yAxes.push({
          type: "value", gridIndex: p, position: pos, min: P.ymin, max: P.ymax, z: 10,
          axisLine: { show: major, onZero: false, lineStyle: { color: AXIS, width: 1 } },
          axisTick: { show: true, inside: true, length: major ? 19 : 9, lineStyle: { color: AXIS },
            customValues: major ? heightTicks : heightMinorTicks },
          splitLine: { show: false },
          axisLabel: { show: k === 0, customValues: heightTicks, fontSize: 19, color: TEXT, margin: 14,
            fontFamily: FONT, fontWeight: 300 },
        });
      });
      series.push(bgSeries(p, P.ymin));
      series.push(shapeSeries(p, P.fills, true, { fill: ORANGE, stroke: INK, lineWidth: 1 }, 2));
      series.push(shapeSeries(p, P.holes, true, { fill: "#ffffff", stroke: INK, lineWidth: 1 }, 3));
      series.push(shapeSeries(p, P.loops, true, { fill: "none", stroke: INK, lineWidth: 1 }, 4));
      series.push(shapeSeries(p, P.lines, false, { fill: "none", stroke: INK, lineWidth: 1 }, 4));
      series.push(labelSeries(p, P.lw, "#ffffff"));
      series.push(labelSeries(p, P.lo, ORANGE));
    });

    chart.setOption({
      animation: false,
      backgroundColor: BG,
      grid: grids,
      xAxis: xAxes,
      yAxis: yAxes,
      series,
      graphic: [
        { type: "text", x: 127, y: 22, style: { text: "Q3D", fill: TEXT, fontSize: 29, fontFamily: FONT, fontWeight: 300, align: "left", verticalAlign: "middle" } },
        { type: "text", x: 126, y: 323, style: { text: "BENCHMARK", fill: TEXT, fontSize: 30, fontFamily: FONT, fontWeight: 300, align: "left", verticalAlign: "middle" } },
        { type: "text", x: 23, y: 147, rotation: Math.PI / 2, style: { text: "Q3D", fill: "#e2231a", fontSize: 30, fontFamily: FONT, fontWeight: 500, align: "center", verticalAlign: "middle" } },
        { type: "text", x: 23, y: 462, rotation: Math.PI / 2, style: { text: "BENCHMARK", fill: "#e2231a", fontSize: 27, fontFamily: FONT, fontWeight: 500, align: "center", verticalAlign: "middle" } },
        { type: "text", x: 74, y: 146, rotation: Math.PI / 2, style: { text: "HEIGHT (km)", fill: TEXT, fontSize: 19, fontFamily: FONT, fontWeight: 300, align: "center", verticalAlign: "middle" } },
        { type: "text", x: 74, y: 447, rotation: Math.PI / 2, style: { text: "HEIGHT (km)", fill: TEXT, fontSize: 19, fontFamily: FONT, fontWeight: 300, align: "center", verticalAlign: "middle" } },
        { type: "text", x: 603, y: 286, style: { text: "TIME (hr)", fill: TEXT, fontSize: 19, fontFamily: FONT, fontWeight: 300, align: "center", verticalAlign: "middle" } },
      ],
    });
    return () => chart.dispose();
  }, []);
  return <div ref={ref} style={{ position: "absolute", left: 0, top: 0, width: 1104, height: 576, background: BG }} />;
}
